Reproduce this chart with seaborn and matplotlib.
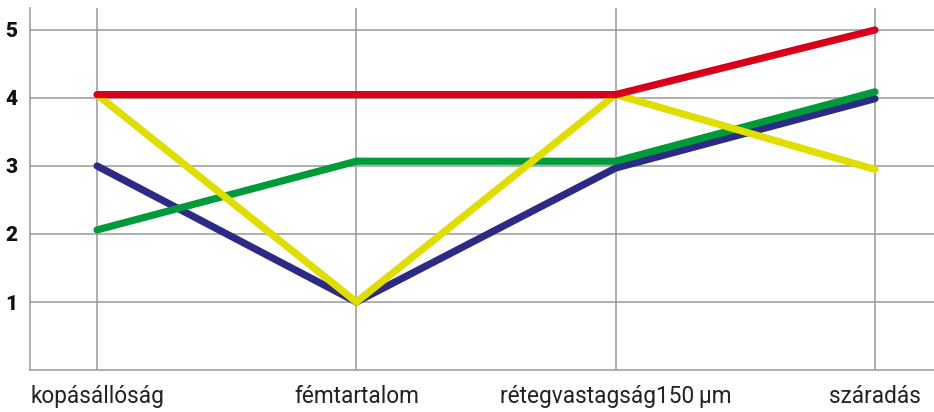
import matplotlib
matplotlib.use("Agg")
import matplotlib.pyplot as plt
import seaborn as sns
import pandas as pd

categories = ["kopásállóság", "fémtartalom", "rétegvastagság150\u2009µm", "száradás"]
series_names = ["kék", "zöld", "sárga", "piros"]
blue_vals = [3.0, 1.0, 2.97, 3.99]
green_vals = [2.06, 3.07, 3.07, 4.09]
yellow_vals = [4.05, 1.0, 4.05, 2.95]
red_vals = [4.05, 4.05, 4.05, 5.0]
colors = ["#2b2a85", "#009a3a", "#e0de00", "#d7001b"]
y_ticks = [1, 2, 3, 4, 5]

rows = []
for name, vals in zip(series_names, [blue_vals, green_vals, yellow_vals, red_vals]):
    for i, v in enumerate(vals):
        rows.append({"x": i, "y": v, "series": name})
df = pd.DataFrame(rows)

sns.set_style("white")
plt.rcParams["font.family"] = ["Roboto", "DejaVu Sans"]

fig = plt.figure(figsize=(9.34, 4.12), dpi=100)
ax = fig.add_axes([30/934, 42/412, 1 - 30/934, (370 - 8)/412])

ax.set_xlim(-67/259, 3 + 59/259)
ax.set_ylim(0, 362/68)

grid_c = "#999999"
for t in y_ticks:
    ax.axhline(t, color=grid_c, lw=1.1, zorder=1)
for i in range(len(categories)):
    ax.axvline(i, color=grid_c, lw=1.1, zorder=1)

sns.lineplot(data=df, x="x", y="y", hue="series", hue_order=series_names,
             palette=dict(zip(series_names, colors)), linewidth=5.2,
             sort=False, legend=False, ax=ax, solid_capstyle="round", zorder=3)

ax.set_xticks(range(len(categories)))
ax.set_xticklabels(categories, fontsize=16.3, color="#222222")
ax.set_yticks(y_ticks)
ax.set_yticklabels([str(t) for t in y_ticks], fontsize=15, fontweight="heavy", color="#111111")
ax.tick_params(axis="both", length=0)
ax.tick_params(axis="x", pad=11)
ax.tick_params(axis="y", pad=9)
ax.set_xlabel("")
ax.set_ylabel("")
for s in ["top", "right"]:
    ax.spines[s].set_visible(False)
for s in ["left", "bottom"]:
    ax.spines[s].set_color(grid_c)
    ax.spines[s].set_linewidth(1.1)

fig.savefig("out.png", dpi=100)
